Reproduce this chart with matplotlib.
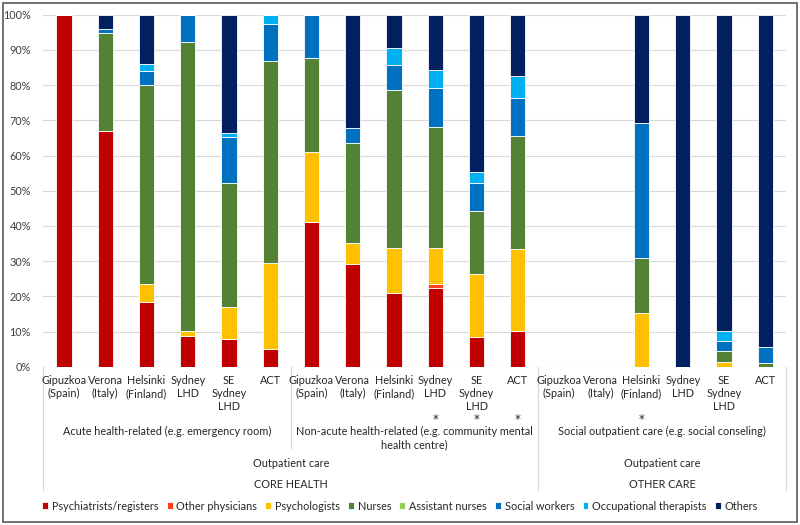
import numpy as np
import matplotlib
matplotlib.use('Agg')
import matplotlib.pyplot as plt
import matplotlib.transforms as mtransforms
from matplotlib.patches import Rectangle
from matplotlib.ticker import PercentFormatter

plt.rcParams['font.family'] = ['Lato', 'DejaVu Sans']

# x-axis categories (lowest level), 3 groups of 6
cities = ['Gipuzkoa\n(Spain)', 'Verona\n(Italy)', 'Helsinki\n(Finland)', 'Sydney\nLHD',
          'SE\nSydney\nLHD', 'ACT'] * 3
settings = ['Acute health-related (e.g. emergency room)',
            'Non-acute health-related (e.g. community mental\nhealth centre)',
            'Social outpatient care (e.g. social conseling)']
care = ['Outpatient care', 'Outpatient care']
sectors = ['CORE HEALTH', 'OTHER CARE']
starred = [9, 10, 11, 14]

# shares in % per professional group
psychiatrists = [100, 67.0, 18.5, 8.7, 7.9, 4.9, 41.2, 29.2, 20.9, 22.4, 8.5, 10.1, 0, 0, 0, 0, 0, 0]
other_phys = [0, 0, 0, 0, 0, 0, 0, 0, 0, 1.2, 0, 0, 0, 0, 0, 0, 0, 0]
psychologists = [0, 0, 4.9, 1.5, 9.1, 24.5, 19.9, 5.9, 12.7, 10.0, 17.8, 23.3, 0, 0, 15.3, 0, 1.4, 0]
nurses = [0, 27.7, 56.7, 82.0, 35.1, 57.4, 26.7, 28.5, 44.9, 34.5, 17.9, 32.1, 0, 0, 15.5, 0, 3.1, 1.0]
assistant = [0] * 18
social = [0, 1.3, 3.8, 7.8, 13.2, 10.6, 12.2, 4.1, 7.3, 11.0, 7.9, 10.9, 0, 0, 38.5, 0, 2.8, 4.7]
occupational = [0, 0, 2.0, 0, 1.0, 2.6, 0, 0, 4.8, 5.2, 3.3, 6.3, 0, 0, 0, 0, 2.9, 0]
others = [0, 4.0, 14.1, 0, 33.7, 0, 0, 32.3, 9.4, 15.7, 44.6, 17.3, 0, 0, 30.7, 100, 89.8, 94.3]

series = [('Psychiatrists/registers', psychiatrists, '#C00000'),
          ('Other physicians', other_phys, '#FF3F17'),
          ('Psychologists', psychologists, '#FFC000'),
          ('Nurses', nurses, '#548235'),
          ('Assistant nurses', assistant, '#92D050'),
          ('Social workers', social, '#0070C0'),
          ('Occupational therapists', occupational, '#00B0F0'),
          ('Others', others, '#002060')]

W, H = 800, 525
fs = 7.8
fig = plt.figure(figsize=(8, 5.25), dpi=100)
ax = fig.add_axes([43.4 / W, 1 - 366.7 / H, (786 - 43.4) / W, (366.7 - 14.7) / H])

x = np.arange(len(cities))
bottom = np.zeros(len(cities))
for name, vals, col in series:
    vals = np.array(vals, dtype=float)
    ax.bar(x, vals, 0.37, bottom=bottom, color=col, label=name,
           edgecolor='white', linewidth=0.6)
    bottom += vals

ax.set_xlim(-0.5, len(cities) - 0.5)
ax.set_ylim(0, 100)
ax.set_yticks(np.arange(0, 101, 10))
ax.yaxis.set_major_formatter(PercentFormatter(decimals=0))
ax.tick_params(axis='y', length=0, labelsize=fs, labelcolor='#404040', pad=9)
ax.set_xticks([])
for s in ax.spines.values():
    s.set_visible(False)
ax.grid(axis='y', color='#d9d9d9', linewidth=0.8)
ax.set_axisbelow(True)

# multi-level category axis
tr = mtransforms.blended_transform_factory(ax.transData, fig.transFigure)
def fy(p):
    return 1 - p / H
lc = '#d9d9d9'
tc = '#262626'
for xv, y1 in [(-0.5, 490), (5.5, 448), (11.5, 490), (17.5, 490)]:
    ax.plot([xv, xv], [fy(367), fy(y1)], color=lc, lw=0.9, transform=tr, clip_on=False)

for i, lab in enumerate(cities):
    ax.text(i, fy(375), lab, transform=tr, ha='center', va='top', fontsize=fs,
            color=tc, linespacing=1.25)
for i in starred:
    ax.text(i, fy(413.5), '*', transform=tr, ha='center', va='top', fontsize=8.5,
            color=tc, family='DejaVu Sans')
for g, lab in enumerate(settings):
    ax.text(g * 6 + 2.5, fy(425.5), lab, transform=tr, ha='center', va='top',
            fontsize=fs, color=tc, linespacing=1.3)
for xc, c, s in [(5.5, care[0], sectors[0]), (14.5, care[1], sectors[1])]:
    ax.text(xc, fy(463.5), c, transform=tr, ha='center', va='center', fontsize=fs, color=tc)
    ax.text(xc, fy(484.5), s, transform=tr, ha='center', va='center', fontsize=fs, color=tc)

fig.legend(loc='center', bbox_to_anchor=(0.5, fy(506)), ncol=8, frameon=False,
           fontsize=fs, handlelength=0.55, handleheight=0.55, handletextpad=0.35,
           columnspacing=0.75, labelcolor=tc)

fig.patches.append(Rectangle((3 / W, 3 / H), 794 / W, 519 / H, transform=fig.transFigure,
                             fill=False, edgecolor='#595959', linewidth=1.2))

fig.savefig('out.png', dpi=100)
